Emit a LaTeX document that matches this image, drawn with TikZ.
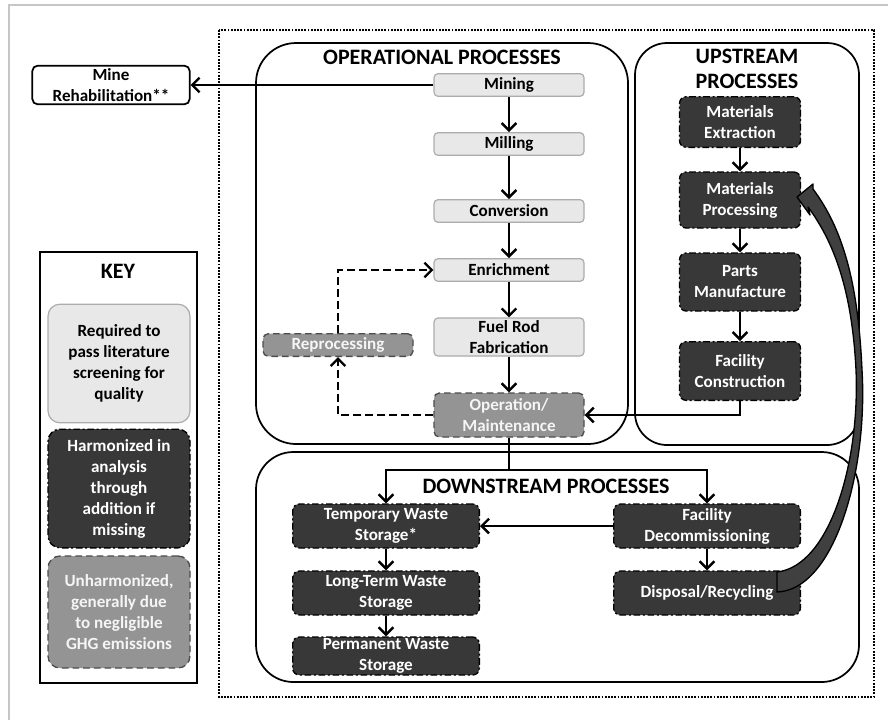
\documentclass[tikz,border=0pt]{standalone}
\usepackage{fontspec}
\setmainfont{Carlito}
\usetikzlibrary{arrows.meta}

\tikzstyle{lightbox} = [rectangle, rounded corners=3pt, fill=gray!18, draw=gray!65, line width=0.9pt, align=center, inner sep=0pt, text=black]
\tikzstyle{darkbox} = [rectangle, rounded corners=5pt, fill=black!78, draw=black, dash pattern=on 5pt off 2pt on 1.5pt off 2pt, line width=1pt, align=center, inner sep=0pt, text=white]
\tikzstyle{midbox} = [rectangle, rounded corners=4pt, fill=black!42, draw=black!70, dash pattern=on 5pt off 3pt, line width=1pt, align=center, inner sep=0pt, text=gray!8]
\tikzstyle{group} = [draw=black, line width=1.3pt]
\tikzstyle{title} = [font=\bfseries\fontsize{16.5}{19}\selectfont, align=center]
\tikzstyle{arrow} = [line width=1.8pt, -{Straight Barb[length=5.5pt, width=11pt]}]
\tikzstyle{dasharrow} = [arrow, dash pattern=on 6pt off 3pt]

\begin{document}
\begin{tikzpicture}[x=0.75pt, y=-0.75pt, font=\bfseries\fontsize{12.8}{15.75}\selectfont]
\useasboundingbox (0,0) rectangle (888,719);

% page frame
\draw[gray!45, line width=1pt] (9,725) -- (9,5) -- (895,5);
\draw[densely dotted, line width=1.4pt] (219,30) rectangle (874,697);

% groups
\draw[group, rounded corners=30pt] (256,43) rectangle (628,444);
\draw[group, rounded corners=24pt] (635,43) rectangle (859,445);
\draw[group, rounded corners=28pt] (256,452) rectangle (859,682);
\node (optitle) [title] at (442,57) {OPERATIONAL PROCESSES};
\node (uptitle) [title] at (747,69) {UPSTREAM\\PROCESSES};
\node (downtitle) [title] at (546,486) {DOWNSTREAM PROCESSES};

% operational processes
\node (mining) [lightbox, minimum width=112.5pt, minimum height=17pt] at (509,85) {Mining};
\node (milling) [lightbox, minimum width=112.5pt, minimum height=17pt] at (509,144) {Milling};
\node (conversion) [lightbox, minimum width=112.5pt, minimum height=17pt] at (509,211) {Conversion};
\node (enrichment) [lightbox, minimum width=112.5pt, minimum height=17pt] at (509,270) {Enrichment};
\node (fuelrod) [lightbox, minimum width=112.5pt, minimum height=28.5pt] at (509,337) {Fuel Rod\\Fabrication};
\node (operation) [midbox, minimum width=112.5pt, minimum height=33pt] at (509,415) {Operation/\\Maintenance};
\node (reprocessing) [midbox, minimum width=112.5pt, minimum height=17pt] at (338,345) {Reprocessing};

% upstream processes
\node (matext) [darkbox, minimum width=90.75pt, minimum height=38pt] at (740,122) {Materials\\Extraction};
\node (matproc) [darkbox, minimum width=90.75pt, minimum height=42pt] at (740,200) {Materials\\Processing};
\node (parts) [darkbox, minimum width=90.75pt, minimum height=43.5pt] at (740,282) {Parts\\Manufacture};
\node (faccon) [darkbox, minimum width=90.75pt, minimum height=44pt] at (740,371) {Facility\\Construction};

% downstream processes
\node (tempws) [darkbox, minimum width=140pt, minimum height=33pt] at (386,526) {Temporary Waste\\Storage*};
\node (longws) [darkbox, minimum width=140pt, minimum height=33pt] at (386,593) {Long-Term Waste\\Storage};
\node (permws) [darkbox, minimum width=140pt, minimum height=28.5pt] at (386,656) {Permanent Waste\\Storage};
\node (decom) [darkbox, minimum width=140pt, minimum height=33pt] at (707,526) {Facility\\Decommissioning};
\node (disposal) [darkbox, minimum width=140pt, minimum height=33pt] at (707,593) {Disposal/Recycling};

\node (rehab) [draw, line width=1.3pt, rounded corners=4pt, fill=white, align=center, inner sep=0pt, minimum width=118pt, minimum height=29pt] at (111,85) {Mine\\Rehabilitation**};

% key
\draw[line width=1.6pt] (40,252) rectangle (197,683);
\node (keytitle) [title] at (118,271) {KEY};
\node (keylight) [lightbox, rounded corners=9pt, minimum width=106.5pt, minimum height=89pt] at (119,363.5) {Required to\\pass literature\\screening for\\quality};
\node (keydark) [darkbox, rounded corners=9pt, minimum width=106.5pt, minimum height=89pt] at (119,488.5) {Harmonized in\\analysis\\through\\addition if\\missing};
\node (keymid) [midbox, rounded corners=9pt, minimum width=106.5pt, minimum height=84pt] at (119,612) {Unharmonized,\\generally due\\to negligible\\GHG emissions};

% connectors
\draw [arrow] (mining) -- (rehab);
\draw [arrow] (mining) -- (milling);
\draw [arrow] (milling) -- (conversion);
\draw [arrow] (conversion) -- (enrichment);
\draw [arrow] (enrichment) -- (fuelrod);
\draw [arrow] (fuelrod) -- (operation);
\draw [dasharrow] (reprocessing.north) |- (enrichment.west);
\draw [dasharrow] (operation.west) -| (reprocessing.south);

\draw [arrow] (matext) -- (matproc);
\draw [arrow] (matproc) -- (parts);
\draw [arrow] (parts) -- (faccon);
\draw [arrow] (faccon.south) |- (operation.east);

\coordinate (split) at (509,470);
\draw [line width=1.8pt] (operation) -- (split);
\draw [arrow] (split) -| (tempws);
\draw [arrow] (split) -| (decom);
\draw [arrow] (decom) -- (tempws);
\draw [arrow] (decom) -- (disposal);
\draw [arrow] (tempws) -- (longws);
\draw [arrow] (longws) -- (permws);

% recycling back to materials processing
\draw[fill=black!75, line width=1pt, line join=round]
  (777,592) .. controls (835,590) and (868,470) .. (862,370)
  .. controls (858,280) and (842,228) .. (813,189)
  -- (813,184) -- (797,197) -- (810,215) -- (808,207)
  .. controls (834,242) and (852,290) .. (856,370)
  .. controls (860,462) and (830,566) .. (777,572) -- cycle;

\end{tikzpicture}
\end{document}
